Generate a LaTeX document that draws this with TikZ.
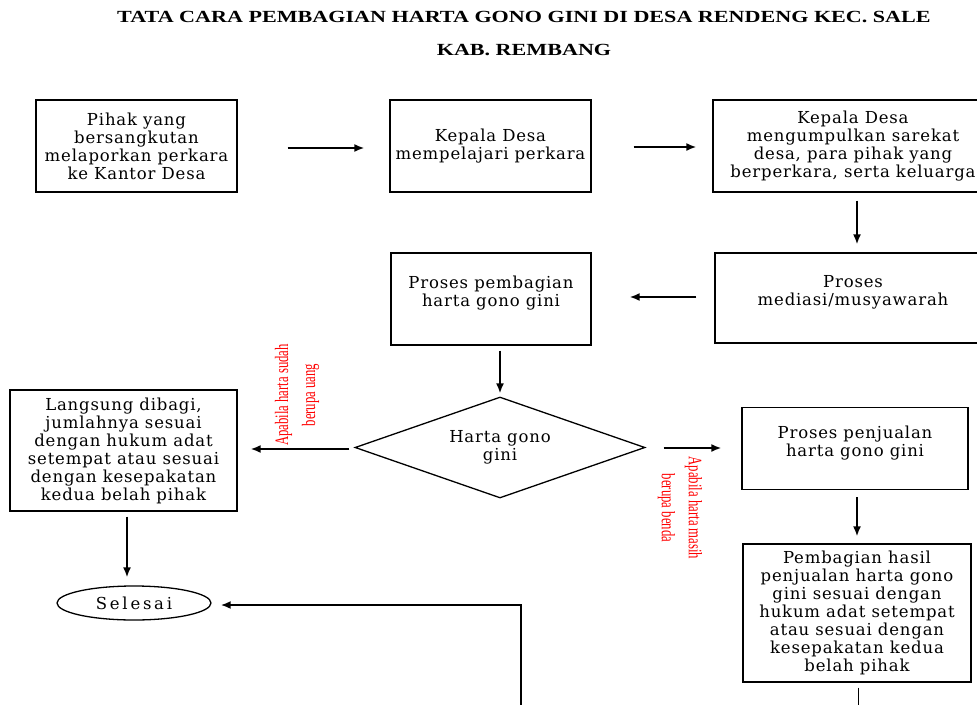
\documentclass[tikz,border=0pt]{standalone}
\usepackage{fontspec}
\usetikzlibrary{calc}
\usetikzlibrary{arrows.meta}
\usetikzlibrary{shapes.geometric}
\newfontfamily\isifont[LetterSpace=5]{DejaVu Serif}
\newfontfamily\judulfont[FakeStretch=1.3]{Liberation Serif}
\newfontfamily\merahfont[FakeStretch=0.67]{Liberation Serif}

\begin{document}
\begin{tikzpicture} [x=1pt, y=-1pt,
  kotak/.style={draw, line width=1.3pt, align=center, inner sep=0pt,
    font=\isifont\fontsize{16.5}{18}\selectfont},
  panah/.style={line width=1.8pt, -{Latex[length=10pt,width=8pt]}},
  merah/.style={text=red, align=center, inner sep=0pt,
    font=\merahfont\fontsize{19}{27}\selectfont}]
\useasboundingbox (0,0) rectangle (977,704);
% judul
\node[font=\judulfont\bfseries\fontsize{17}{20}\selectfont] (judul1) at (524,17) {TATA CARA PEMBAGIAN HARTA GONO GINI DI DESA RENDENG KEC. SALE};
\node[font=\judulfont\bfseries\fontsize{17}{20}\selectfont] (judul2) at (524,50) {KAB. REMBANG};
% baris atas
\node[kotak, minimum width=201pt, minimum height=92pt] (lapor) at (136.5,146) {Pihak yang\\bersangkutan\\melaporkan perkara\\ke Kantor Desa};
\node[kotak, minimum width=201pt, minimum height=92pt] (pelajari) at (490.5,146) {Kepala Desa\\mempelajari perkara};
\node[kotak, minimum width=280pt, minimum height=92pt] (kumpul) at (853,146) {Kepala Desa\\mengumpulkan sarekat\\desa, para pihak yang\\berperkara, serta keluarga};
% baris kedua
\node[kotak, minimum width=276pt, minimum height=90pt, text depth=16pt] (mediasi) at (853,298) {Proses\\mediasi/musyawarah};
\node[kotak, minimum width=200pt, minimum height=92pt, text depth=16pt] (pembagian) at (491,299) {Proses pembagian\\harta gono gini};
% keputusan
\node[kotak, shape=diamond, minimum width=290pt, minimum height=101pt, shape aspect=2.9] (belah) at (500,447.5) {Harta gono\\gini};
\node[kotak, minimum width=227pt, minimum height=121pt] (langsung) at (123.5,450.5) {Langsung dibagi,\\jumlahnya sesuai\\dengan hukum adat\\setempat atau sesuai\\dengan kesepakatan\\kedua belah pihak};
\node[kotak, minimum width=226pt, minimum height=82pt, text depth=14pt] (penjualan) at (855,448.5) {Proses penjualan\\harta gono gini};
\node[kotak, minimum width=228pt, minimum height=138pt] (hasil) at (857,613) {Pembagian hasil\\penjualan harta gono\\gini sesuai dengan\\hukum adat setempat\\atau sesuai dengan\\kesepakatan kedua\\belah pihak};
\node[kotak, shape=ellipse, minimum width=154pt, minimum height=34pt] (selesai) at (134,603) {S\,e\,l\,e\,s\,a\,i};
% keterangan merah
\node[merah, rotate=90] (uang) at (297,395) {Apabila harta sudah\\berupa uang};
\node[merah, rotate=-90] (benda) at (680,508) {Apabila harta masih\\berupa benda};
% panah
\draw[panah] ($(lapor.east)+(50,2)$) -- ($(pelajari.west)+(-25,2)$);
\draw[panah] ($(pelajari.east)+(42,1)$) -- ($(kumpul.west)+(-16,1)$);
\draw[panah] ($(kumpul.south)+(4,8)$) -- ($(mediasi.north)+(4,-8)$);
\draw[panah] ($(mediasi.west)+(-18,-1)$) -- ($(pembagian.east)+(38,-2)$);
\draw[panah] ($(pembagian.south -| belah.north)+(0,5)$) -- ($(belah.north)+(0,-3)$);
\draw[panah] ($(belah.west)+(-5,1.5)$) -- ($(langsung.east)+(13,-1.5)$);
\draw[panah] ($(belah.east)+(18,0.5)$) -- ($(penjualan.west)+(-20,-0.5)$);
\draw[panah] ($(langsung.south)+(3.5,5)$) -- ($(langsung.south |- selesai.north)+(3.5,-8)$);
\draw[panah] ($(penjualan.south)+(2,7)$) -- ($(penjualan.south |- hasil.north)+(2,-7)$);
\coordinate (ujung) at (521,706);
\draw[panah, line width=2.8pt] (ujung) |- ($(selesai.east)+(9,2)$);
\coordinate (bawah) at (858,706);
\draw[line width=1pt] ($(hasil.south)+(1,5)$) -- (bawah);
\end{tikzpicture}
\end{document}
